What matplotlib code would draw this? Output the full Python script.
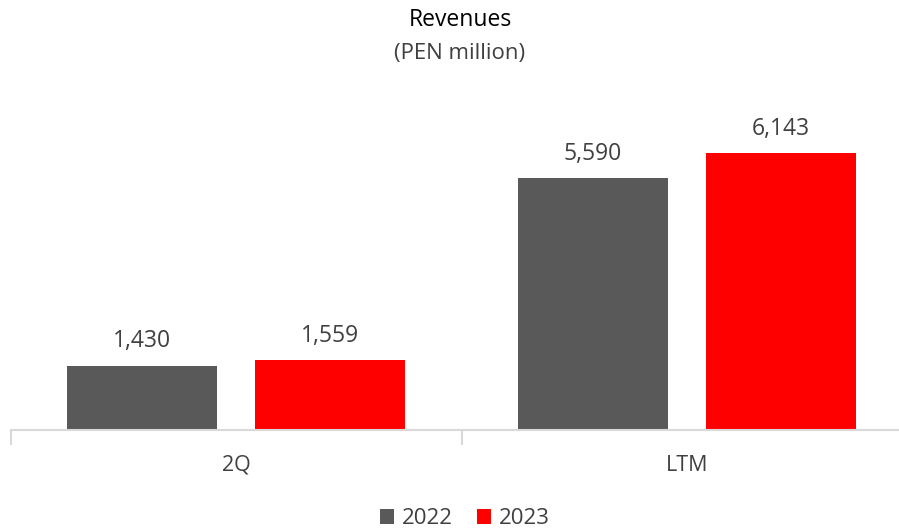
import matplotlib
matplotlib.use("Agg")
import matplotlib.pyplot as plt
import numpy as np

categories = ["2Q", "LTM"]
series_names = ["2022", "2023"]
values_2022 = [1430, 5590]
values_2023 = [1559, 6143]
colors = ["#595959", "#ff0000"]

plt.rcParams['font.family'] = ['Open Sans', 'DejaVu Sans']

W, H = 899, 531
fig = plt.figure(figsize=(W/100, H/100), dpi=100)
ax = fig.add_axes([11/W, (H-430)/H, 901/W, 340/H])

x = np.arange(len(categories))
bw = 150/450.5
off = (75+19)/450.5
for i, (vals, c) in enumerate(zip([values_2022, values_2023], colors)):
    pos = x + (-off if i == 0 else off)
    bars = ax.bar(pos, vals, width=bw, color=c, label=series_names[i], zorder=2)
    for b, v in zip(bars, vals):
        ax.annotate(f"{v:,}", (b.get_x()+b.get_width()/2, v), xytext=(0, 13),
                    textcoords="offset points", ha="center", va="baseline",
                    fontsize=16.5, color="#404040")

ax.set_xlim(-0.5, 1.5)
ax.set_ylim(0, 340/(277/6143))
for s in ["top", "right", "left"]:
    ax.spines[s].set_visible(False)
ax.spines["bottom"].set_color("#d9d9d9")
ax.spines["bottom"].set_linewidth(1.5)
ax.set_yticks([])
ax.set_xticks([-0.5, 0.5, 1.5])
ax.set_xticklabels([])
ax.set_xticks(x, minor=True)
ax.set_xticklabels(categories, minor=True, fontsize=15.5, color="#404040")
ax.tick_params(axis="x", which="major", length=11, width=1.5, color="#d9d9d9")
ax.tick_params(axis="x", which="minor", length=0, pad=18)

fig.text(460/W, 1-20/H, "Revenues", ha="center", va="center", fontsize=16.5, color="#000000")
fig.text(460/W, 1-53/H, "(PEN million)", ha="center", va="center", fontsize=16, color="#404040")

leg = fig.legend(loc="center", bbox_to_anchor=(465/W, 1-519/H), ncol=2, frameon=False,
                 fontsize=16, handlelength=0.63, handleheight=0.63, handletextpad=0.36,
                 columnspacing=1.08, labelcolor="#404040", borderpad=0, borderaxespad=0)

fig.savefig("out.png", dpi=100)
